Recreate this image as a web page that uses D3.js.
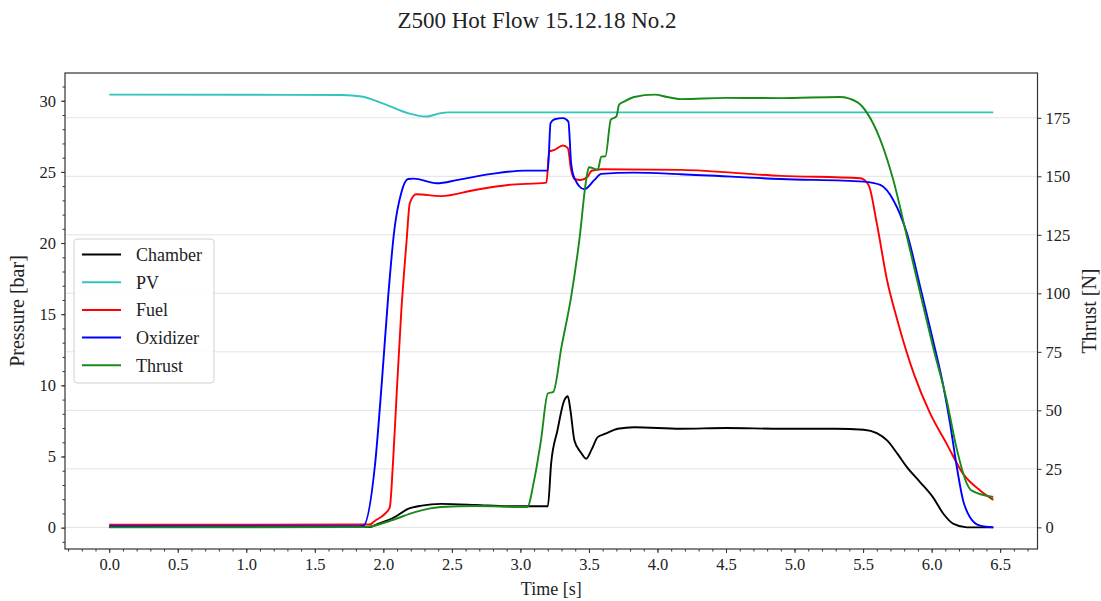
<!DOCTYPE html>
<html>
<head>
<meta charset="utf-8">
<script src="https://cdn.jsdelivr.net/npm/d3@7"></script>
<style>
  html, body { margin: 0; padding: 0; background: #fff; }
  svg { display: block; font-family: "Liberation Serif", "DejaVu Serif", serif; }
</style>
</head>
<body>
<svg id="chart" width="1101" height="601"></svg>
<script>
// Z500 hot flow test, 15.12.18, run No.2 — feed pressures [bar] and thrust [N] over time [s]

const chamberT = [0, 1.9, 1.96, 2.08, 2.18, 2.28, 2.42, 2.67, 2.91, 3.2, 3.224, 3.27, 3.32, 3.346, 3.365, 3.394, 3.44, 3.48, 3.52, 3.564, 3.62, 3.71, 3.83, 4.17, 4.5, 4.9, 5.3, 5.505, 5.6, 5.675, 5.75, 5.82, 5.917, 6.01, 6.087, 6.16, 6.257, 6.45];
const chamberP = [0.05, 0.05, 0.26, 0.73, 1.32, 1.55, 1.67, 1.6, 1.5, 1.5, 4.49, 6.83, 8.94, 9.23, 8.24, 6.13, 5.3, 4.84, 5.5, 6.36, 6.6, 6.95, 7.06, 6.95, 7.0, 6.95, 6.95, 6.88, 6.64, 6.13, 5.2, 4.25, 3.19, 2.13, 0.96, 0.26, 0.02, 0.02];

const pvT = [0, 1.0, 1.7, 1.84, 1.99, 2.18, 2.31, 2.42, 2.47, 3.0, 4.0, 5.0, 6.0, 6.45];
const pvP = [30.43, 30.42, 30.4, 30.3, 29.84, 29.13, 28.89, 29.13, 29.18, 29.18, 29.18, 29.18, 29.18, 29.18];

const fuelT = [0, 1.9, 1.94, 2.01, 2.047, 2.07, 2.096, 2.13, 2.17, 2.193, 2.24, 2.42, 2.667, 2.91, 3.19, 3.21, 3.25, 3.31, 3.346, 3.37, 3.394, 3.44, 3.49, 3.52, 3.59, 4.17, 4.9, 5.48, 5.54, 5.6, 5.675, 5.75, 5.87, 5.99, 6.11, 6.23, 6.354, 6.45];
const fuelP = [0.2, 0.22, 0.49, 0.96, 1.43, 4.49, 9.18, 15.05, 20.2, 22.8, 23.43, 23.3, 23.73, 24.08, 24.25, 26.43, 26.55, 26.86, 26.67, 25.14, 24.5, 24.43, 24.66, 25.08, 25.19, 25.14, 24.72, 24.55, 24.08, 21.39, 17.39, 14.58, 10.82, 8.01, 5.89, 3.78, 2.61, 1.95];

const oxT = [0, 1.8, 1.854, 1.94, 1.99, 2.035, 2.08, 2.13, 2.18, 2.22, 2.39, 2.545, 2.79, 3.03, 3.2, 3.22, 3.25, 3.31, 3.35, 3.37, 3.394, 3.467, 3.54, 3.59, 3.83, 4.17, 4.9, 5.505, 5.626, 5.72, 5.82, 5.917, 6.01, 6.087, 6.135, 6.18, 6.23, 6.28, 6.354, 6.45];
const oxP = [0.1, 0.1, 0.14, 4.49, 10.35, 16.2, 20.9, 23.5, 24.5, 24.53, 24.2, 24.44, 24.86, 25.09, 25.09, 28.43, 28.7, 28.78, 28.54, 25.6, 24.56, 23.78, 24.44, 24.86, 24.95, 24.84, 24.5, 24.32, 24.08, 23.03, 20.68, 16.92, 13.17, 9.88, 7.3, 4.49, 1.9, 0.73, 0.14, 0.02];

const thrustT = [0, 1.865, 2.06, 2.23, 2.42, 2.667, 3.05, 3.1, 3.15, 3.2, 3.24, 3.3, 3.37, 3.43, 3.48, 3.5, 3.564, 3.59, 3.62, 3.66, 3.7, 3.72, 3.76, 3.83, 3.98, 4.07, 4.17, 4.5, 4.9, 5.33, 5.46, 5.53, 5.626, 5.72, 5.82, 5.917, 6.01, 6.11, 6.18, 6.257, 6.29, 6.45];
const thrustN = [0, 0.1, 3.0, 6.5, 8.7, 9.1, 8.7, 20.1, 37.2, 57.2, 57.9, 77.2, 98.5, 122.8, 148.5, 153.9, 152.8, 158.4, 158.5, 174.2, 175.6, 180.6, 182.0, 183.9, 184.9, 183.9, 183.0, 183.5, 183.4, 183.9, 181.6, 177.0, 165.6, 148.5, 124.2, 100.0, 77.2, 54.3, 34.4, 18.7, 15.8, 13.0];

const timeTicks = [0, 0.5, 1.0, 1.5, 2.0, 2.5, 3.0, 3.5, 4.0, 4.5, 5.0, 5.5, 6.0, 6.5];
const pressureTicks = [0, 5, 10, 15, 20, 25, 30];
const thrustTicks = [0, 25, 50, 75, 100, 125, 150, 175];

const seriesNames = ["Chamber", "PV", "Fuel", "Oxidizer", "Thrust"];
const seriesColors = ["#000000", "#35c4bc", "#ff0000", "#0000ff", "#188a18"];

const titleText = "Z500 Hot Flow 15.12.18 No.2";

// ---- layout ----
const svg = d3.select("#chart");
const plot = { left: 65, right: 1037.5, top: 73, bottom: 549 };
const axisColor = "#333333";
const textColor = "#222222";

// padded extent (5% each side)
function padded(lo, hi) {
  const m = (hi - lo) * 0.05;
  return [lo - m, hi + m];
}

const allT = [].concat(chamberT, pvT, fuelT, oxT, thrustT);
const allP = [].concat(chamberP, pvP, fuelP, oxP);

const x = d3.scaleLinear().domain(padded(d3.min(allT), d3.max(allT))).range([plot.left, plot.right]);
const yP = d3.scaleLinear().domain(padded(d3.min(allP), d3.max(allP))).range([plot.bottom, plot.top]);
const yN = d3.scaleLinear().domain(padded(d3.min(thrustN), d3.max(thrustN))).range([plot.bottom, plot.top]);

// ---- grid (thrust axis) ----
svg.append("g")
  .selectAll("line")
  .data(thrustTicks)
  .join("line")
  .attr("x1", plot.left).attr("x2", plot.right)
  .attr("y1", d => yN(d)).attr("y2", d => yN(d))
  .attr("stroke", "#e3e3e3")
  .attr("stroke-width", 1);

// ---- lines ----
svg.append("clipPath").attr("id", "plotclip")
  .append("rect")
  .attr("x", plot.left).attr("y", plot.top)
  .attr("width", plot.right - plot.left).attr("height", plot.bottom - plot.top);

const lines = svg.append("g").attr("clip-path", "url(#plotclip)");

function drawSeries(ts, vs, yScale, color) {
  const pts = ts.map((t, i) => [t, vs[i]]);
  const gen = d3.line()
    .x(d => x(d[0]))
    .y(d => yScale(d[1]))
    .curve(d3.curveMonotoneX);
  lines.append("path")
    .attr("d", gen(pts))
    .attr("fill", "none")
    .attr("stroke", color)
    .attr("stroke-width", 1.9)
    .attr("stroke-linejoin", "round");
}

drawSeries(chamberT, chamberP, yP, seriesColors[0]);
drawSeries(pvT, pvP, yP, seriesColors[1]);
drawSeries(fuelT, fuelP, yP, seriesColors[2]);
drawSeries(oxT, oxP, yP, seriesColors[3]);
drawSeries(thrustT, thrustN, yN, seriesColors[4]);

// ---- axes ----
const fmt1 = d3.format(".1f");

function styleAxis(g) {
  g.select(".domain").remove();
  g.selectAll(".tick line").attr("stroke", axisColor).attr("stroke-width", 1);
  g.selectAll(".tick text")
    .attr("fill", textColor)
    .style("font-family", "'Liberation Serif', serif")
    .style("font-size", "16.5px");
}

// x axis, major + minor
const xMinor = d3.range(-3, 68).map(i => i / 10);
svg.append("g")
  .attr("transform", `translate(0,${plot.bottom})`)
  .call(d3.axisBottom(x).tickValues(xMinor).tickSize(2.5).tickFormat(""))
  .call(g => { g.select(".domain").remove(); g.selectAll(".tick line").attr("stroke", axisColor); });
svg.append("g")
  .attr("transform", `translate(0,${plot.bottom})`)
  .call(d3.axisBottom(x).tickValues(timeTicks).tickSize(4).tickPadding(5).tickFormat(fmt1))
  .call(styleAxis);

// left pressure axis
const pMinor = d3.range(-1, 32);
svg.append("g")
  .attr("transform", `translate(${plot.left},0)`)
  .call(d3.axisLeft(yP).tickValues(pMinor).tickSize(2.5).tickFormat(""))
  .call(g => { g.select(".domain").remove(); g.selectAll(".tick line").attr("stroke", axisColor); });
svg.append("g")
  .attr("transform", `translate(${plot.left},0)`)
  .call(d3.axisLeft(yP).tickValues(pressureTicks).tickSize(4).tickPadding(5).tickFormat(d3.format("d")))
  .call(styleAxis);

// right thrust axis
svg.append("g")
  .attr("transform", `translate(${plot.right},0)`)
  .call(d3.axisRight(yN).tickValues(thrustTicks).tickSize(4).tickPadding(4).tickFormat(d3.format("d")))
  .call(styleAxis);

// frame
svg.append("rect")
  .attr("x", plot.left).attr("y", plot.top)
  .attr("width", plot.right - plot.left).attr("height", plot.bottom - plot.top)
  .attr("fill", "none")
  .attr("stroke", axisColor)
  .attr("stroke-width", 1.2);

// ---- titles ----
svg.append("text")
  .attr("x", 537).attr("y", 28)
  .attr("text-anchor", "middle")
  .attr("fill", textColor)
  .style("font-size", "23px")
  .text(titleText);

svg.append("text")
  .attr("x", (plot.left + plot.right) / 2).attr("y", 595)
  .attr("text-anchor", "middle")
  .attr("fill", textColor)
  .style("font-size", "18px")
  .text("Time [s]");

svg.append("text")
  .attr("transform", `translate(24,${(plot.top + plot.bottom) / 2}) rotate(-90)`)
  .attr("text-anchor", "middle")
  .attr("fill", textColor)
  .style("font-size", "20px")
  .text("Pressure [bar]");

svg.append("text")
  .attr("transform", `translate(1096,${(plot.top + plot.bottom) / 2}) rotate(-90)`)
  .attr("text-anchor", "middle")
  .attr("fill", textColor)
  .style("font-size", "20px")
  .text("Thrust [N]");

// ---- legend ----
const legend = svg.append("g").attr("transform", "translate(74,239)");
legend.append("rect")
  .attr("width", 140).attr("height", 144)
  .attr("rx", 3).attr("ry", 3)
  .attr("fill", "#ffffff").attr("fill-opacity", 0.85)
  .attr("stroke", "#d0d0d0").attr("stroke-width", 1);

const rows = legend.selectAll("g.row")
  .data(seriesNames)
  .join("g")
  .attr("class", "row")
  .attr("transform", (d, i) => `translate(0,${15.5 + i * 27.7})`);

rows.append("line")
  .attr("x1", 8).attr("x2", 47)
  .attr("stroke", (d, i) => seriesColors[i])
  .attr("stroke-width", 2);

rows.append("text")
  .attr("x", 62).attr("y", 0)
  .attr("dy", "0.35em")
  .attr("fill", textColor)
  .style("font-size", "18px")
  .text(d => d);
</script>
</body>
</html>
